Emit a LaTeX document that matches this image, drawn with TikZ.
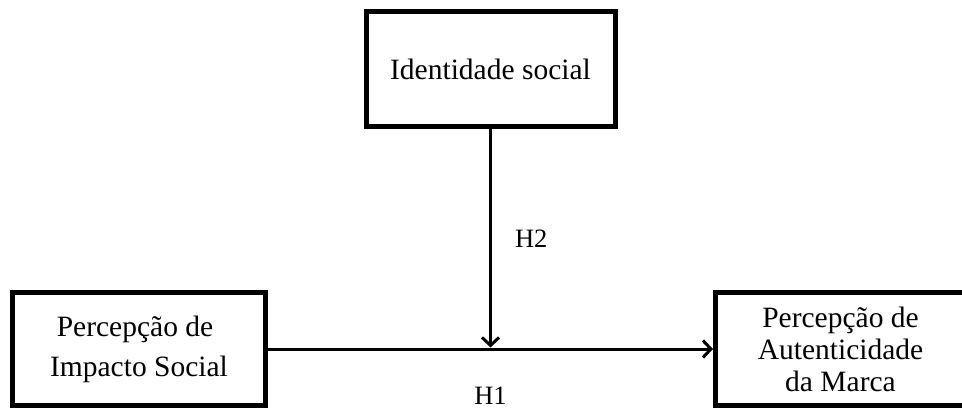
\documentclass[tikz,border=0pt]{standalone}
\usepackage{fontspec}
\setmainfont{Liberation Serif}
\usetikzlibrary{positioning,arrows.meta}

\begin{document}
\begin{tikzpicture}[
x=0.5pt, y=-0.5pt,
box/.style={rectangle, draw=black, line width=2.5pt, inner sep=0pt, align=center},
conn/.style={line width=1.5pt, -{Straight Barb[length=4pt,width=8.5pt]}},
hyp/.style={inner sep=0pt, font=\fontsize{13.25}{16}\selectfont}
]
\useasboundingbox (0,0) rectangle (962,411);

\node[box, minimum width=126.5pt, minimum height=56.5pt, font=\fontsize{14.75}{20}\selectfont] (impacto) at (139,349) {Percepção de\hspace*{4pt}\\Impacto Social};
\node[box, minimum width=125pt, minimum height=56.5pt, font=\fontsize{14.75}{16}\selectfont] (autenticidade) [right=222.5pt of impacto] {Percepção de\\Autenticidade\\da Marca};

%H1
\draw[conn] (impacto) -- (autenticidade) coordinate[midway] (juncao) node[hyp, midway, below=18.5pt] {H1};

\node[box, minimum width=124.5pt, minimum height=57.5pt, font=\fontsize{14.75}{17}\selectfont] (identidade) [above=110pt of juncao] {\raisebox{-1.5pt}{Identidade social}};

%H2
\draw[conn, shorten >=0.75pt] (identidade) -- (juncao) node[hyp, midway, right=11.5pt] {H2};
\end{tikzpicture}
\end{document}
